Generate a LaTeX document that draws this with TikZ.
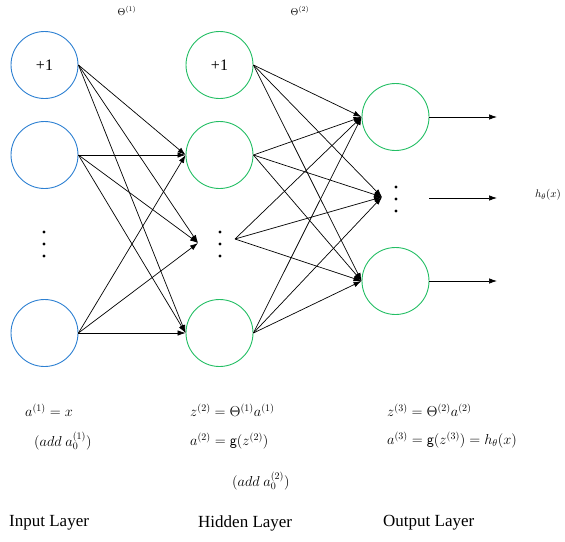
\documentclass[tikz,border=0pt]{standalone}
\usepackage{fontspec}
\setmainfont{Liberation Serif}
\usepackage{xcolor}
\definecolor{inblue}{RGB}{45,128,210}
\definecolor{hidgreen}{RGB}{35,190,100}
\usepackage{tikz}
\usetikzlibrary{shapes,arrows,arrows.meta,positioning,calc}

\tikzset{
  neuron/.style={circle,draw,line width=0.9pt,minimum size=67pt,inner sep=0pt,
    font=\fontsize{16}{18}\selectfont},
  inneuron/.style={neuron,draw=inblue},
  hidneuron/.style={neuron,draw=hidgreen},
  wire/.style={-{Latex[length=8pt,width=5.5pt]},line width=0.7pt},
  eqn/.style={anchor=west,inner sep=0pt,font=\fontsize{14.5}{17}\selectfont},
  layername/.style={anchor=west,inner sep=0pt,font=\fontsize{17}{20}\selectfont},
  dotmark/.style={fill=black}
}

\begin{document}
\begin{tikzpicture}[x=1pt,y=-1pt]
  \useasboundingbox (0,0) rectangle (565,541);
  % 权重
  \node[font=\fontsize{10}{12}\selectfont] (theta1) at (127,11) {$\Theta^{(1)}$};
  \node[font=\fontsize{10}{12}\selectfont] (theta2) at (300,11) {$\Theta^{(2)}$};
  % 输入层
  \node[inneuron] (in1) at (44.5,65) {+1};
  \node[inneuron] (in2) at (44.5,155) {};
  \node[inneuron] (in3) at (44.5,333) {};
  \foreach \y in {232,244,256} \fill[dotmark] (44,\y) circle (1.6);
  % 隐藏层
  \node[hidneuron] (h1) at (219.5,65) {+1};
  \node[hidneuron] (h2) at (219.5,155) {};
  \node[hidneuron] (h3) at (219.5,333) {};
  \foreach \y in {232,244,256} \fill[dotmark] (220,\y) circle (1.6);
  \coordinate (hdin) at (198,243);
  \coordinate (hdout) at (235,239);
  % 输出层
  \node[hidneuron] (o1) at (395.5,117) {};
  \node[hidneuron] (o3) at (395.5,281) {};
  \foreach \y in {187,199,211} \fill[dotmark] (396,\y) circle (1.6);
  \coordinate (odin) at (382,197);
  \coordinate (odout) at (429,198);
  \coordinate (y1) at (497,117);
  \coordinate (y2) at (497,198);
  \coordinate (y3) at (497,281);
  \node[font=\fontsize{11}{13}\selectfont] (hx) at (548,195) {$h_\theta\big(x\big)$};
  % 连线
  \foreach \s in {in1,in2,in3}
    \foreach \t in {h2.west,hdin,h3.west}
      \draw[wire] (\s.east) -- (\t);
  \foreach \s in {h1.east,h2.east,hdout,h3.east}
    \foreach \t in {o1.west,odin,o3.west}
      \draw[wire] (\s) -- (\t);
  \draw[wire] (o1.east) -- (y1);
  \draw[wire] (odout) -- (y2);
  \draw[wire] (o3.east) -- (y3);
  % 公式
  \node[eqn] (eq1) at (25,410) {$a^{(1)}=x$};
  \node[eqn] (eq1b) at (34,441) {$\Big(add\ a_0^{(1)}\Big)$};
  \node[eqn] (eq2) at (190,410) {$z^{(2)}=\Theta^{(1)}a^{(1)}$};
  \node[eqn] (eq2b) at (190,441) {$a^{(2)}=\mathsf{g}\Big(z^{(2)}\Big)$};
  \node[eqn] (eq2c) at (232,481) {$\Big(add\ a_0^{(2)}\Big)$};
  \node[eqn] (eq3) at (387,410) {$z^{(3)}=\Theta^{(2)}a^{(2)}$};
  \node[eqn] (eq3b) at (387,440) {$a^{(3)}=\mathsf{g}\Big(z^{(3)}\Big)=h_\theta\big(x\big)$};
  % 层名
  \node[layername] (inname) at (9,523) {Input Layer};
  \node[layername] (hidname) at (198,523) {Hidden Layer};
  \node[layername] (outname) at (383,523) {Output Layer};
\end{tikzpicture}
\end{document}
